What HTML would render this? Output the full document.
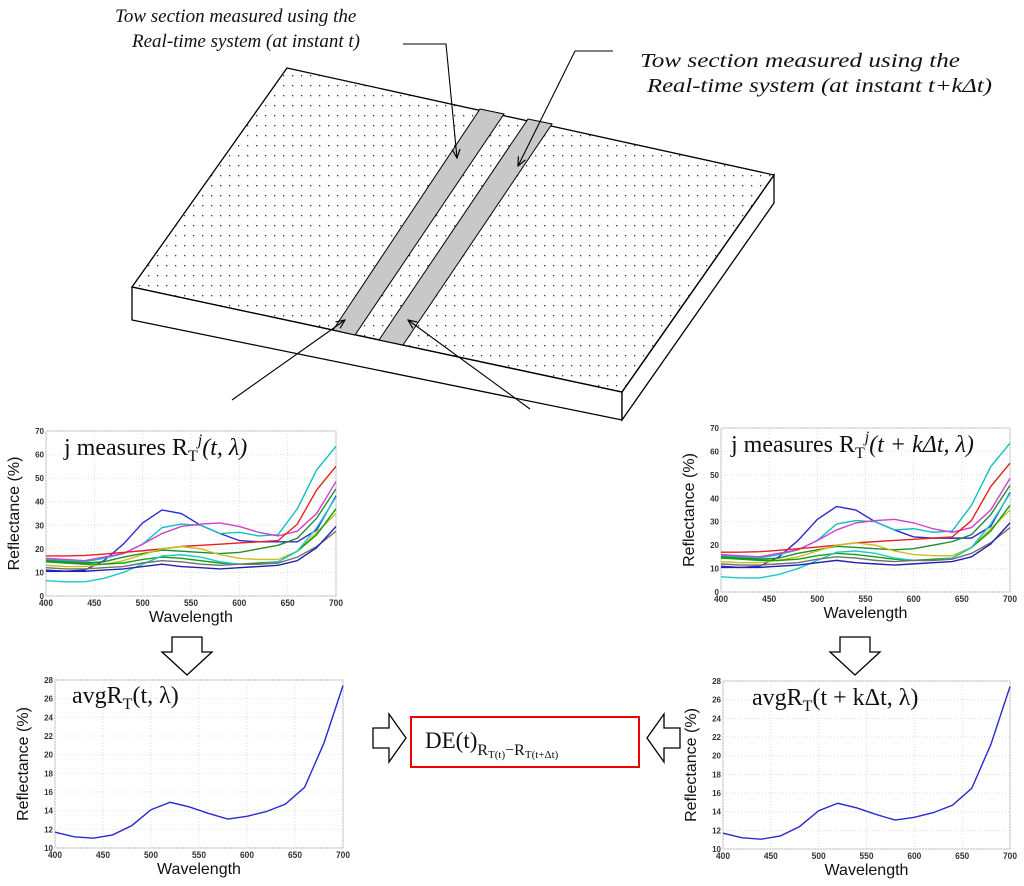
<!DOCTYPE html>
<html><head><meta charset="utf-8"><style>
html,body{margin:0;padding:0;background:#fff;}
svg{display:block;}
.ser{font-family:"Liberation Serif","DejaVu Serif",serif;}
.sans{font-family:"Liberation Sans",sans-serif;}
</style></head><body>
<svg id="fig" width="1024" height="886" viewBox="0 0 1024 886" xmlns="http://www.w3.org/2000/svg">
<defs>
<pattern id="dots" x="0" y="0" width="9" height="10" patternUnits="userSpaceOnUse">
<rect x="4" y="5" width="1.3" height="1.3" fill="#333"/>
</pattern>
<marker id="ah" viewBox="0 0 10 10" refX="9" refY="5" markerWidth="9" markerHeight="9" orient="auto-start-reverse"><path d="M0,1 L9,5 L0,9" fill="none" stroke="#000" stroke-width="1.2"/></marker>
</defs>
<g>
<polygon points="132,287 622,392 622,420 132,320" fill="#fff" stroke="#000" stroke-width="1.3"/>
<polygon points="774,175 774,203 622,420 622,392" fill="#fff" stroke="#000" stroke-width="1.3"/>
<polygon points="287,68 774,175 622,392 132,287" fill="url(#dots)" stroke="#000" stroke-width="1.3"/>
<polygon points="480,109 504,114 355,335 333,330" fill="#c8c8c8" stroke="#000" stroke-width="1"/>
<polygon points="528,119 552,124 403,345 379,340" fill="#c8c8c8" stroke="#000" stroke-width="1"/>
</g>
<g>
<text class="ser" x="115" y="22" font-size="19" font-style="italic" fill="#111">Tow section measured using the</text>
<text class="ser" x="132" y="47" font-size="19" font-style="italic" fill="#111">Real-time system (at instant t)</text>
<polyline points="403,44 446,44 457,158" fill="none" stroke="#000" stroke-width="1.1" marker-end="url(#ah)"/>
<line x1="232" y1="400" x2="345" y2="320" stroke="#000" stroke-width="1.1" marker-end="url(#ah)"/>
</g>
<g>
<text class="ser" x="640" y="67" font-size="20" font-style="italic" fill="#111" textLength="320" lengthAdjust="spacingAndGlyphs">Tow section measured using the</text>
<text class="ser" x="647" y="92" font-size="20" font-style="italic" fill="#111" textLength="345" lengthAdjust="spacingAndGlyphs">Real-time system (at instant t+kΔt)</text>
<polyline points="613,51 575,51 518,166" fill="none" stroke="#000" stroke-width="1.1" marker-end="url(#ah)"/>
<line x1="530" y1="409" x2="408" y2="320" stroke="#000" stroke-width="1.1" marker-end="url(#ah)"/>
</g>
<g>
<polygon points="172,637 202,637 202,652 212,652 187,675 162,652 172,652" fill="#fff" stroke="#000" stroke-width="1.3"/>
<polygon points="840,637 870,637 870,652 880,652 855,675 830,652 840,652" fill="#fff" stroke="#000" stroke-width="1.3"/>
<polygon points="373,728 389,728 389,714 406,738 389,762 389,748 373,748" fill="#fff" stroke="#000" stroke-width="1.3"/>
<polygon points="680,728 664,728 664,714 647,738 664,762 664,748 680,748" fill="#fff" stroke="#000" stroke-width="1.3"/>
<rect x="411" y="717" width="228" height="50" fill="#fff" stroke="#e00" stroke-width="2"/>
<text class="ser" x="425" y="748" font-size="23" fill="#111">DE(t)<tspan font-size="16" dy="7">R</tspan><tspan font-size="11" dy="3">T(t)</tspan><tspan font-size="16" dy="-3">−R</tspan><tspan font-size="11" dy="3">T(t+Δt)</tspan></text>
</g>
<g id="charts"></g>
</svg>
<script>
const NS="http://www.w3.org/2000/svg";
const wavelengths=[400,420,440,460,480,500,520,540,560,580,600,620,640,660,680,700];
const seriesColors=["#2a2ad0","#10c0c0","#d040d0","#e82020","#208c30","#c8c020","#10a010","#20c8c8","#707070","#2020b0"];
const s1=[11,10.5,11,15,22,31,36.5,35,30,26.5,23.5,23,23,23,28,42.5];
const s2=[15.5,15,14.5,16,18,22,29,30.5,30,26.5,27,25.5,26,37,53.5,63.5];
const s3=[16,15.5,15,16.5,18,22,26.5,29.5,30.5,31,29.5,27,25.5,27.5,35,48.5];
const s4=[17,17,17.2,17.8,18.5,19.2,20,21,21.5,22,22.5,23,23.5,30.5,45,55];
const s5=[15,14.5,14,14.5,16.5,18,19.5,19,18.5,18,18.5,20,21.5,24.5,33,45.5];
const s6=[13,12.5,12.5,13.5,15,17.5,20,21,20,17.5,16,15.5,15.5,19,27,35];
const s7=[14.5,14,13.5,13.5,14,15.5,16.5,16,15,14,13.5,14,14.5,19,26,37];
const s8=[6.5,6,6,7.5,10,13.5,17,17.5,16.5,14.5,13.5,13.5,14.5,19,29,42];
const s9=[12,11.5,11.5,12,12.5,14,15,14.5,13.5,13,13.5,13.5,14,16.5,21,27.5];
const s10=[10.5,10.5,10.5,11,11.5,12.5,13.5,12.5,12,11.5,12,12.5,13,15,20.5,29.5];
const avgValues=[11.7,11.2,11.05,11.4,12.4,14.1,14.9,14.4,13.7,13.1,13.4,13.9,14.7,16.5,21.2,27.4];
const xTicks=[400,450,500,550,600,650,700];
const yTicksMeasures=[0,10,20,30,40,50,60,70];
const yTicksAvg=[10,12,14,16,18,20,22,24,26,28];
const allSeries=[s1,s2,s3,s4,s5,s6,s7,s8,s9,s10];

function mk(tag,attrs,parent){const e=document.createElementNS(NS,tag);for(const k in attrs)e.setAttribute(k,attrs[k]);parent.appendChild(e);return e;}

function chart(name,box,ymin,ymax,yTicks,series,colors,titleHTML,titleX,titleY){
  const root=document.getElementById('charts');
  const g=mk('g',{},root);
  
  
  const X=v=>box.x0+(v-400)/(700-400)*(box.x1-box.x0);
  const Y=v=>box.y1-(v-ymin)/(ymax-ymin)*(box.y1-box.y0);
  mk('rect',{x:box.x0,y:box.y0,width:box.x1-box.x0,height:box.y1-box.y0,fill:'#fff',stroke:'#bbb','stroke-width':1},g);
  xTicks.forEach(t=>{
    const l=mk('line',{x1:X(t),x2:X(t),y1:box.y0,y2:box.y1,stroke:'#ddd','stroke-dasharray':'1,2'},g);
    
    
    const tx=mk('text',{x:X(t),y:box.y1+10,'text-anchor':'middle','font-size':9,'font-weight':'bold',fill:'#333',class:'sans','textLength':14,'lengthAdjust':'spacingAndGlyphs'},g);
    tx.textContent=t;
    
    
  });
  yTicks.forEach(t=>{
    const l=mk('line',{x1:box.x0,x2:box.x1,y1:Y(t),y2:Y(t),stroke:'#ddd','stroke-dasharray':'1,2'},g);
    
    
    const tx=mk('text',{x:box.x0-2,y:Y(t)+3,'text-anchor':'end','font-size':8,'font-weight':'bold',fill:'#333',class:'sans'},g);
    tx.textContent=t;
    
    
  });
  const xl=mk('text',{x:(box.x0+box.x1)/2,y:box.y1+26,'text-anchor':'middle','font-size':16,fill:'#111',class:'sans'},g);
  xl.textContent='Wavelength';
  
  
  const cy=(box.y0+box.y1)/2, cx=box.x0-27;
  const yl=mk('text',{x:cx,y:cy,'text-anchor':'middle','font-size':16,fill:'#111',class:'sans',transform:`rotate(-90 ${cx} ${cy})`},g);
  yl.textContent='Reflectance (%)';
  
  
  series.forEach((s,i)=>{
    const p=mk('polyline',{points:s.map((v,j)=>X(wavelengths[j])+','+Y(v)).join(' '),fill:'none',stroke:colors[i],'stroke-width':1.4},g);
    
    
  });
  const t=mk('text',{x:titleX,y:titleY,'font-size':24,fill:'#111',class:'ser'},g);
  t.innerHTML=titleHTML;
  
  
}
const tMeasL='j measures R<tspan font-size="16" dy="6">T</tspan><tspan font-size="16" dy="-16" font-style="italic">j</tspan><tspan dy="10" font-style="italic">(t, λ)</tspan>';
const tMeasR='j measures R<tspan font-size="16" dy="6">T</tspan><tspan font-size="16" dy="-16" font-style="italic">j</tspan><tspan dy="10" font-style="italic">(t + kΔt, λ)</tspan>';
const tAvgL='avgR<tspan font-size="16" dy="6">T</tspan><tspan dy="-6">(t, λ)</tspan>';
const tAvgR='avgR<tspan font-size="16" dy="6">T</tspan><tspan dy="-6">(t + kΔt, λ)</tspan>';
chart('measures-chart-t',{x0:46,x1:336,y0:431,y1:596},0,70,yTicksMeasures,allSeries,seriesColors,tMeasL,64,455);
chart('measures-chart-t-kdt',{x0:721,x1:1010,y0:428,y1:592},0,70,yTicksMeasures,allSeries,seriesColors,tMeasR,731,452);
chart('avg-chart-t',{x0:55,x1:343,y0:680,y1:848},10,28,yTicksAvg,[avgValues],["#2a2ad0"],tAvgL,72,703);
chart('avg-chart-t-kdt',{x0:723,x1:1010,y0:681,y1:849},10,28,yTicksAvg,[avgValues],["#2a2ad0"],tAvgR,752,705);
</script>
</body></html>
